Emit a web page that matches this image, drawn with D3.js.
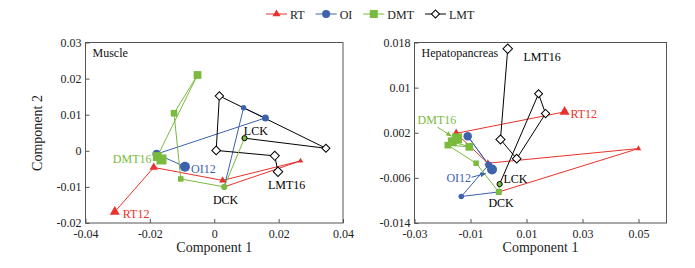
<!DOCTYPE html>
<html>
<head>
<meta charset="utf-8">
<script src="https://cdn.jsdelivr.net/npm/d3@7"></script>
<style>
  body { margin: 0; background: #fff; }
  svg, svg text { font-family: "Liberation Serif", "Times New Roman", serif; }
</style>
</head>
<body>
<div id="grafico"></div>
<script>
// grupos e cores
const grupos = ["RT", "OI", "DMT", "LMT"];
const cores = { RT: "#e8322b", OI: "#3d62ae", DMT: "#7aba3e", LMT: "#000000", CK: "#000000" };

// Muscle: scores (componente 1, componente 2), na ordem do tempo
const musculoDCK = [0.0031, -0.0100];
const musculoLCK = [0.0094, 0.0035];
const musculoRT = [[0.0268, -0.0028], [0.0026, -0.0082], [-0.0188, -0.0046], [-0.0309, -0.0169]];
const musculoOI = [[0.0091, 0.0119], [0.0159, 0.0091], [-0.0179, -0.0009], [-0.0091, -0.0044]];
const musculoDMT = [[-0.0104, -0.0078], [-0.0125, 0.0104], [-0.0052, 0.0210], [-0.0177, -0.0016], [-0.0164, -0.0024]];
const musculoLMT = [[0.0347, 0.0007], [0.0016, 0.0152], [0.0006, 0.0001], [0.0188, -0.0014], [0.0198, -0.0058]];

// Hepatopancreas
const hepatoDCK = [0.0001, -0.0085];
const hepatoLCK = [0.0004, -0.0071];
const hepatoRT = [[0.0500, -0.0008], [-0.0038, -0.0034], [-0.0151, 0.0019], [0.0236, 0.0057]];
const hepatoOI = [[-0.0133, -0.0093], [-0.0035, -0.0037], [-0.0110, 0.0014], [-0.0023, -0.0045]];
const hepatoDMT = [[-0.0080, -0.0034], [-0.0181, -0.0002], [-0.0104, -0.0005], [-0.0165, 0.0004], [-0.0148, 0.0010]];
const hepatoLMT = [[0.0143, 0.0089], [0.0168, 0.0054], [0.0065, -0.0026], [0.0007, 0.0008], [0.0033, 0.0169]];

// eixos
const musculoXTicks = [-0.04, -0.02, 0, 0.02, 0.04];
const musculoXLabels = ["-0.04", "-0.02", "0", "0.02", "0.04"];
const musculoYTicks = [0.03, 0.02, 0.01, 0, -0.01, -0.02];
const musculoYLabels = ["0.03", "0.02", "0.01", "0", "-0.01", "-0.02"];
const hepatoXTicks = [-0.03, -0.01, 0.01, 0.03, 0.05];
const hepatoXLabels = ["-0.03", "-0.01", "0.01", "0.03", "0.05"];
const hepatoYTicks = [0.018, 0.01, 0.002, -0.006, -0.014];
const hepatoYLabels = ["0.018", "0.01", "0.002", "-0.006", "-0.014"];

// rótulos (em coordenadas dos dados)
const musculoRotulos = [
  { texto: "DMT16", grupo: "DMT", x: -0.0315, y: -0.0034 },
  { texto: "OI12", grupo: "OI", x: -0.0072, y: -0.0062 },
  { texto: "LCK", grupo: "CK", x: 0.0092, y: 0.0044 },
  { texto: "DCK", grupo: "CK", x: -0.0004, y: -0.0147 },
  { texto: "LMT16", grupo: "LMT", x: 0.0167, y: -0.0106 },
  { texto: "RT12", grupo: "RT", x: -0.0284, y: -0.0186 }
];
const hepatoRotulos = [
  { texto: "LMT16", grupo: "LMT", x: 0.0089, y: 0.0148 },
  { texto: "RT12", grupo: "RT", x: 0.0257, y: 0.0047 },
  { texto: "DMT16", grupo: "DMT", x: -0.0289, y: 0.0035 },
  { texto: "OI12", grupo: "OI", x: -0.0186, y: -0.0068 },
  { texto: "LCK", grupo: "CK", x: 0.0018, y: -0.0069 },
  { texto: "DCK", grupo: "CK", x: -0.0036, y: -0.0112 }
];
const hepatoSetas = [
  { grupo: "DMT", de: [-0.0218, 0.0030], para: [-0.0168, 0.0014] },
  { grupo: "OI", de: [-0.0096, -0.0059], para: [-0.0046, -0.0052] }
];

const largura = 695;
const altura = 268;
const fonte = "Liberation Serif, Times New Roman, serif";

const svg = d3.select("#grafico").append("svg")
  .attr("width", largura)
  .attr("height", altura)
  .attr("font-family", fonte);

// setas
const defs = svg.append("defs");
["DMT", "OI"].forEach(g => {
  defs.append("marker")
    .attr("id", "seta-" + g)
    .attr("viewBox", "0 0 10 10")
    .attr("refX", 9).attr("refY", 5)
    .attr("markerWidth", 6).attr("markerHeight", 6)
    .attr("orient", "auto")
    .append("path")
    .attr("d", "M0,1L10,5L0,9Z")
    .attr("fill", cores[g]);
});

// forma do marcador por grupo; w = largura aproximada em px
function simbolo(grupo, w) {
  if (grupo === "RT") return d3.symbol(d3.symbolTriangle, Math.sqrt(3) / 4 * w * w)();
  if (grupo === "OI") return d3.symbol(d3.symbolCircle, Math.PI * w * w / 4)();
  if (grupo === "DMT") return d3.symbol(d3.symbolSquare, w * w)();
  return d3.symbol(d3.symbolSquare, w * w / 2)(); // losango (rodado 45°)
}

function renderPainel(cfg) {
  const g = svg.append("g");
  const x = d3.scaleLinear().domain(cfg.xDominio).range(cfg.xRange);
  const y = d3.scaleLinear().domain(cfg.yDominio).range([223, 42.5]);

  // eixos com ticks para dentro
  const eixoX = g.append("g")
    .attr("transform", "translate(0,223)")
    .call(d3.axisBottom(x).tickValues(cfg.xTicks)
      .tickFormat((d, i) => cfg.xLabels[i]).tickSizeInner(-4).tickSizeOuter(0).tickPadding(6));
  const eixoY = g.append("g")
    .attr("transform", `translate(${cfg.xRange[0]},0)`)
    .call(d3.axisLeft(y).tickValues(cfg.yTicks)
      .tickFormat((d, i) => cfg.yLabels[i]).tickSizeInner(-4).tickSizeOuter(0).tickPadding(4));
  [eixoX, eixoY].forEach(e => {
    e.attr("font-family", fonte).attr("font-size", 12);
    e.select(".domain").remove();
    e.selectAll("line").attr("stroke", "#555");
    e.selectAll("text").attr("fill", "#222");
  });

  g.append("rect")
    .attr("x", cfg.xRange[0]).attr("y", 42.5)
    .attr("width", cfg.xRange[1] - cfg.xRange[0]).attr("height", 223 - 42.5)
    .attr("fill", "none").attr("stroke", "#555");

  const linha = d3.line().x(d => x(d[0])).y(d => y(d[1]));

  // trajetórias a partir do controle
  grupos.forEach(gr => {
    const ctrl = gr === "LMT" ? cfg.lck : cfg.dck;
    g.append("path")
      .attr("d", linha([ctrl, ...cfg.dados[gr]]))
      .attr("fill", "none")
      .attr("stroke", cores[gr])
      .attr("stroke-width", 1);
  });
  g.append("path")
    .attr("d", linha([cfg.lck, cfg.dck]))
    .attr("fill", "none").attr("stroke", cores.DMT).attr("stroke-width", 1);

  // marcadores
  grupos.forEach(gr => {
    const pts = cfg.dados[gr];
    const tam = d3.scaleLinear().domain([0, pts.length - 1])
      .range(gr === "LMT" ? [8, 9.5] : [5.5, 10]);
    g.selectAll(".m" + gr)
      .data(pts)
      .enter()
      .append("path")
      .attr("d", (d, i) => simbolo(gr, tam(i)))
      .attr("transform", d => `translate(${x(d[0])},${y(d[1])})` + (gr === "LMT" ? " rotate(45)" : ""))
      .attr("fill", gr === "LMT" ? "#fff" : cores[gr])
      .attr("stroke", gr === "LMT" ? "#000" : "none")
      .attr("stroke-width", 1);
  });

  // controles
  g.append("path")
    .attr("d", cfg.dckQuadrado ? d3.symbol(d3.symbolSquare, 36)() : d3.symbol(d3.symbolCircle, 30)())
    .attr("transform", `translate(${x(cfg.dck[0])},${y(cfg.dck[1])})`)
    .attr("fill", cores.DMT);
  g.append("circle")
    .attr("cx", x(cfg.lck[0])).attr("cy", y(cfg.lck[1]))
    .attr("r", 2.6)
    .attr("fill", cores.DMT).attr("stroke", "#000").attr("stroke-width", 1);

  // setas
  g.selectAll(".seta")
    .data(cfg.setas)
    .enter()
    .append("line")
    .attr("x1", d => x(d.de[0])).attr("y1", d => y(d.de[1]))
    .attr("x2", d => x(d.para[0])).attr("y2", d => y(d.para[1]))
    .attr("stroke", d => cores[d.grupo])
    .attr("stroke-width", 1)
    .attr("marker-end", d => `url(#seta-${d.grupo})`);

  // rótulos
  g.selectAll(".rotulo")
    .data(cfg.rotulos)
    .enter()
    .append("text")
    .attr("x", d => x(d.x))
    .attr("y", d => y(d.y))
    .text(d => d.texto)
    .attr("font-size", 12)
    .attr("fill", d => cores[d.grupo]);

  // título do painel
  g.append("text")
    .attr("x", cfg.xRange[0] + 7)
    .attr("y", 57)
    .text(cfg.titulo)
    .attr("font-size", 12)
    .attr("fill", "#111");

  g.append("text")
    .attr("x", (cfg.xRange[0] + cfg.xRange[1]) / 2)
    .attr("y", 252)
    .attr("text-anchor", "middle")
    .attr("font-size", 14)
    .attr("fill", "#222")
    .text("Component 1");
}

renderPainel({
  titulo: "Muscle",
  xDominio: [-0.04, 0.04], xRange: [85.5, 343],
  yDominio: [-0.02, 0.03],
  xTicks: musculoXTicks, xLabels: musculoXLabels,
  yTicks: musculoYTicks, yLabels: musculoYLabels,
  dck: musculoDCK, lck: musculoLCK, dckQuadrado: false,
  dados: { RT: musculoRT, OI: musculoOI, DMT: musculoDMT, LMT: musculoLMT },
  rotulos: musculoRotulos, setas: []
});

renderPainel({
  titulo: "Hepatopancreas",
  xDominio: [-0.03, 0.06], xRange: [414.5, 666.5],
  yDominio: [-0.014, 0.018],
  xTicks: hepatoXTicks, xLabels: hepatoXLabels,
  yTicks: hepatoYTicks, yLabels: hepatoYLabels,
  dck: hepatoDCK, lck: hepatoLCK, dckQuadrado: true,
  dados: { RT: hepatoRT, OI: hepatoOI, DMT: hepatoDMT, LMT: hepatoLMT },
  rotulos: hepatoRotulos, setas: hepatoSetas
});

svg.append("text")
  .attr("transform", "translate(42,133) rotate(-90)")
  .attr("text-anchor", "middle")
  .attr("font-size", 14)
  .attr("fill", "#222")
  .text("Component 2");

// legenda
const legenda = svg.append("g").attr("transform", "translate(266,14)");
let pos = 0;
grupos.forEach(gr => {
  const item = legenda.append("g").attr("transform", `translate(${pos},0)`);
  item.append("line")
    .attr("x1", 0).attr("x2", 21)
    .attr("stroke", cores[gr]).attr("stroke-width", 1);
  item.append("path")
    .attr("d", simbolo(gr, 8))
    .attr("transform", "translate(10.5,0)" + (gr === "LMT" ? " rotate(45)" : ""))
    .attr("fill", gr === "LMT" ? "#fff" : cores[gr])
    .attr("stroke", gr === "LMT" ? "#000" : "none");
  const t = item.append("text")
    .attr("x", 24).attr("y", 4.5)
    .attr("font-size", 12)
    .attr("fill", "#222")
    .text(gr);
  pos += 24 + t.node().getComputedTextLength() + 11;
});
</script>
</body>
</html>
